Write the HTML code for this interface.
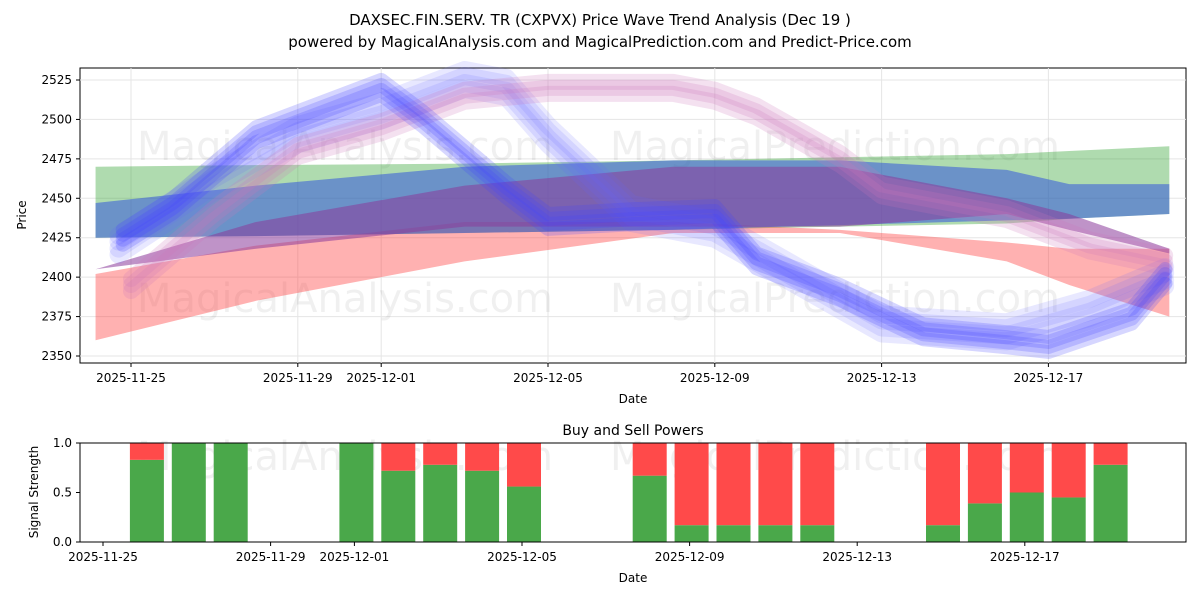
<!DOCTYPE html>
<html><head><meta charset="utf-8"><style>
body{margin:0;background:#fff;font-family:"Liberation Sans","DejaVu Sans",sans-serif;}
svg text{font-family:"DejaVu Sans","Liberation Sans",sans-serif;}
</style></head><body>
<svg id="c" width="1200" height="600" xmlns="http://www.w3.org/2000/svg">
<rect width="1200" height="600" fill="#fff"/>
<text x="600" y="25" text-anchor="middle" font-size="15">DAXSEC.FIN.SERV. TR (CXPVX) Price Wave Trend Analysis (Dec 19 )</text>
<text x="600" y="47" text-anchor="middle" font-size="15">powered by MagicalAnalysis.com and MagicalPrediction.com and Predict-Price.com</text>
<g id="topg"></g>
<g id="bot"></g>
</svg>
<script>
const NS="http://www.w3.org/2000/svg";
function mk(p,t,a){const e=document.createElementNS(NS,t);for(const k in a)e.setAttribute(k,a[k]);p.appendChild(e);return e;}
const priceTicks=[2350,2375,2400,2425,2450,2475,2500,2525];
const dateTicks=["2025-11-25","2025-11-29","2025-12-01","2025-12-05","2025-12-09","2025-12-13","2025-12-17"];
const dateTickDays=[0,4,6,10,14,18,22];
const bandDays=[-0.85,3,8,13,17,21,22.5,24.9];
const greenTop=[2470,2471,2472,2474,2476,2478,2480,2483];
const greenBot=[2425,2426,2428,2430,2432,2434,2437,2440];
const blueTop=[2447,2458,2470,2474,2474,2468,2459,2459];
const blueBot=[2425,2426,2428,2430,2433,2436,2437,2440];
const redTop=[2402,2420,2435,2435,2430,2422,2418,2418];
const redBot=[2360,2385,2410,2428,2428,2410,2395,2375];
const purpTop=[2405,2435,2458,2470,2470,2450,2440,2418];
const purpBot=[2405,2418,2432,2432,2432,2440,2430,2415];
const waveDays=[-0.2,1,3,6,7,9,10,12,14,15,17,19,21,22,24,24.8];
const waveBlue=[2425,2445,2490,2520,2500,2455,2435,2438,2440,2410,2390,2365,2360,2357,2375,2400];
const wavePinkDays=[0,2,4,6,8,10,13,14,15,17,18,21,23,24.8];
const wavePink=[2395,2440,2480,2495,2515,2520,2520,2515,2505,2475,2455,2440,2420,2410];
const waveLightDays=[-0.3,2,4,6,8,9,10,12,14,16,18,21,23,24.8];
const waveLight=[2420,2460,2490,2505,2525,2520,2490,2440,2430,2400,2370,2365,2380,2400];
const barDays=[1,2,3,6,7,8,9,10,13,14,15,16,17,20,21,22,23,24];
const buyVals=[0.83,1,1,1,0.72,0.78,0.72,0.56,0.67,0.17,0.17,0.17,0.17,0.17,0.39,0.5,0.45,0.78];
const sigTicks=[0,0.5,1];
const X0=131,DX=41.7; const xs=d=>X0+d*DX;
const ys=v=>356-(v-2350)*(276/175);
const topG=document.getElementById('topg');
mk(topG,'rect',{x:80,y:68,width:1106,height:295,fill:'none',stroke:'#000','stroke-width':1});
priceTicks.forEach(v=>{mk(topG,'line',{x1:80,x2:1186,y1:ys(v),y2:ys(v),stroke:'#e5e5e5'});
mk(topG,'line',{x1:76,x2:80,y1:ys(v),y2:ys(v),stroke:'#000'});
const t=mk(topG,'text',{x:72,y:ys(v)+4,'text-anchor':'end','font-size':12});t.textContent=v;

});
dateTicks.forEach((d,i)=>{const x=xs(dateTickDays[i]);mk(topG,'line',{x1:x,x2:x,y1:68,y2:363,stroke:'#e5e5e5'});
mk(topG,'line',{x1:x,x2:x,y1:363,y2:367,stroke:'#000'});
const t=mk(topG,'text',{x:x,y:382,'text-anchor':'middle','font-size':12});t.textContent=d;

});
[["MagicalAnalysis.com",345,160],["MagicalPrediction.com",835,160],["MagicalAnalysis.com",345,312],["MagicalPrediction.com",835,312]].forEach(w=>{
const t=mk(topG,'text',{x:w[1],y:w[2],'text-anchor':'middle','font-size':40,fill:'#000','fill-opacity':0.06});t.textContent=w[0];

});
function band(t,b,col,op,name){const pts=bandDays.map((d,i)=>xs(d)+','+ys(t[i])).concat(bandDays.map((d,i)=>[d,i]).reverse().map(([d,i])=>xs(d)+','+ys(b[i])));
const p=mk(topG,'polygon',{points:pts.join(' '),fill:col,'fill-opacity':op});

}
band(greenTop,greenBot,'#2ca02c',0.38,'green-band');
band(redTop,redBot,'#ff3333',0.38,'red-band');
band(blueTop,blueBot,'#3355dd',0.55,'blue-band');
band(purpTop,purpBot,'#8a3a9a',0.55,'purple-band');
function wave(days,vals,col,op,w,off,name){const p=mk(topG,'polyline',{points:days.map((d,i)=>xs(d)+','+(ys(vals[i])+off)).join(' '),fill:'none',stroke:col,'stroke-opacity':op,'stroke-width':w,'stroke-linejoin':'round','stroke-linecap':'round'});

}
[-10,-4,3,9].forEach(o=>wave(waveLightDays,waveLight,'#6666ff',0.15,18,o,'light-wave'));
[-6,0,6].forEach(o=>wave(wavePinkDays,wavePink,'#cc77bb',0.22,16,o,'pink-wave'));
[-8,-3,2,7].forEach(o=>wave(waveDays,waveBlue,'#4444ff',0.22,14,o,'blue-wave'));
const yl=mk(topG,'text',{x:26,y:215,'text-anchor':'middle','font-size':12,transform:'rotate(-90 26 215)'});yl.textContent='Price';


const xl=mk(topG,'text',{x:633,y:403,'text-anchor':'middle','font-size':12});xl.textContent='Date';



const bX0=103,bDX=41.9;const bx=d=>bX0+d*bDX;const by=v=>542-v*99;
const bot=document.getElementById('bot');
[["MagicalAnalysis.com",345,470],["MagicalPrediction.com",835,470]].forEach(w=>{
const t=mk(bot,'text',{x:w[1],y:w[2],'text-anchor':'middle','font-size':40,fill:'#000','fill-opacity':0.06});t.textContent=w[0];

});
barDays.forEach((d,i)=>{const x=bx(d)-15;
const g=mk(bot,'rect',{x:x,y:by(buyVals[i]),width:34,height:buyVals[i]*99,fill:'#4aa84a'});


const r=mk(bot,'rect',{x:x,y:by(1),width:34,height:(1-buyVals[i])*99,fill:'#ff4a4a'});

});
mk(bot,'rect',{x:80,y:443,width:1106,height:99,fill:'none',stroke:'#000'});
sigTicks.forEach(v=>{mk(bot,'line',{x1:76,x2:80,y1:by(v),y2:by(v),stroke:'#000'});
const t=mk(bot,'text',{x:72,y:by(v)+4,'text-anchor':'end','font-size':12});t.textContent=v.toFixed(1);

});
dateTicks.forEach((d,i)=>{const x=bx(dateTickDays[i]);mk(bot,'line',{x1:x,x2:x,y1:542,y2:546,stroke:'#000'});
const t=mk(bot,'text',{x:x,y:561,'text-anchor':'middle','font-size':12});t.textContent=d;

});
const bt=mk(bot,'text',{x:633,y:435,'text-anchor':'middle','font-size':14});bt.textContent='Buy and Sell Powers';


const byl=mk(bot,'text',{x:38,y:492,'text-anchor':'middle','font-size':12,transform:'rotate(-90 38 492)'});byl.textContent='Signal Strength';


const bxl=mk(bot,'text',{x:633,y:582,'text-anchor':'middle','font-size':12});bxl.textContent='Date';


</script>
</body></html>
